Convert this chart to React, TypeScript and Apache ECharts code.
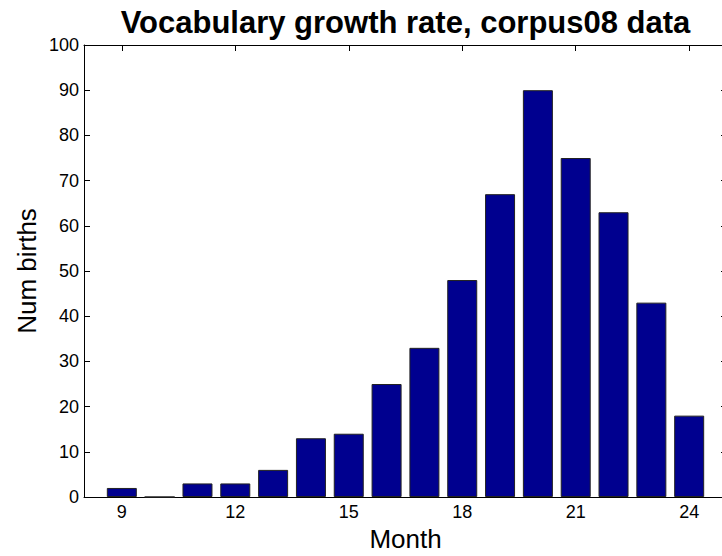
import React, { useEffect, useRef } from "react";
import * as echarts from "echarts";

const months = [9, 10, 11, 12, 13, 14, 15, 16, 17, 18, 19, 20, 21, 22, 23, 24];
const births = [2, 0, 3, 3, 6, 13, 14, 25, 33, 48, 67, 90, 75, 63, 43, 18];
const xTicks = [9, 12, 15, 18, 21, 24];
const titleText = "Vocabulary growth rate, corpus08 data";
const xName = "Month";
const yName = "Num births";

const FONT = '"Liberation Sans", Arial, Helvetica, sans-serif';

export default function App() {
  const ref = useRef<HTMLDivElement>(null);
  useEffect(() => {
    if (!ref.current) return;
    const chart = echarts.init(ref.current, null, { renderer: "svg" });
    const left = 84;
    const top = 45;
    const plotRight = 727;
    const plotBottom = 497;
    const cx = (left + plotRight) / 2;
    const cy = (top + plotBottom) / 2;
    const axisBase = {
      axisLine: { show: true, onZero: false, lineStyle: { color: "#000", width: 1 } },
      splitLine: { show: false },
    };
    chart.setOption({
      animation: false,
      backgroundColor: "#fff",
      textStyle: { fontFamily: FONT },
      grid: {
        left,
        top,
        right: 722 - plotRight,
        bottom: 556 - plotBottom,
        containLabel: false,
        outerBoundsMode: "none",
      },
      xAxis: [
        {
          ...axisBase,
          type: "value",
          position: "bottom",
          min: 8,
          max: 25,
          axisTick: {
            show: true,
            inside: true,
            length: 6,
            lineStyle: { color: "#000" },
            customValues: xTicks,
          },
          axisLabel: {
            show: true,
            customValues: xTicks,
            margin: 6,
            color: "#000",
            fontSize: 18,
            fontFamily: FONT,
          },
        },
        {
          ...axisBase,
          type: "value",
          position: "top",
          min: 8,
          max: 25,
          axisTick: {
            show: true,
            inside: true,
            length: 6,
            lineStyle: { color: "#000" },
            customValues: xTicks,
          },
          axisLabel: { show: false },
        },
      ],
      yAxis: [
        {
          ...axisBase,
          type: "value",
          position: "left",
          min: 0,
          max: 100,
          interval: 10,
          axisTick: { show: true, inside: true, length: 6, lineStyle: { color: "#000" } },
          axisLabel: { show: true, margin: 5, color: "#000", fontSize: 18, fontFamily: FONT },
        },
        {
          ...axisBase,
          type: "value",
          position: "right",
          min: 0,
          max: 100,
          interval: 10,
          axisTick: { show: true, inside: true, length: 6, lineStyle: { color: "#000" } },
          axisLabel: { show: false },
        },
      ],
      series: [
        {
          type: "bar",
          xAxisIndex: 0,
          yAxisIndex: 0,
          barWidth: 30,
          data: months.map((m, i) => [m, births[i]]),
          itemStyle: { color: "#00008F", borderColor: "#222", borderWidth: 1 },
        },
      ],
      graphic: [
        {
          type: "text",
          x: cx,
          y: 22,
          style: {
            text: titleText,
            fill: "#000",
            font: `bold 31px ${FONT}`,
            textAlign: "center",
            textVerticalAlign: "middle",
          },
        },
        {
          type: "text",
          x: cx,
          y: 539,
          style: {
            text: xName,
            fill: "#000",
            font: `26px ${FONT}`,
            textAlign: "center",
            textVerticalAlign: "middle",
          },
        },
        {
          type: "text",
          x: 27,
          y: cy,
          rotation: Math.PI / 2,
          style: {
            text: yName,
            fill: "#000",
            font: `26px ${FONT}`,
            textAlign: "center",
            textVerticalAlign: "middle",
          },
        },
      ],
    });
    return () => chart.dispose();
  }, []);
  return (
    <div
      ref={ref}
      style={{ position: "absolute", left: 0, top: 0, width: 722, height: 556 }}
    />
  );
}
